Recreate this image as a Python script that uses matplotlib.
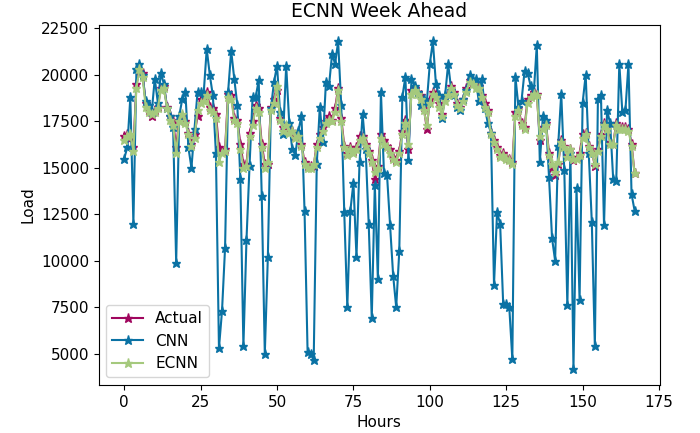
import matplotlib
matplotlib.use("Agg")
import matplotlib.pyplot as plt

hours = list(range(168))

actual = [
16700, 16800, 16600, 16100, 19500, 20200, 20100, 18500, 18100, 17800,
18100, 18300, 19300, 19400, 18300, 17800, 17500, 16100, 17600, 17800,
17500, 16900, 16300, 16800, 17800, 18700, 18800, 19100, 18300, 18200,
17900, 16100, 15900, 16000, 19000, 18900, 17700, 17600, 16300, 15200,
15200, 16900, 17500, 18400, 18200, 16300, 15200, 15200, 18300, 18700,
19200, 17700, 17200, 17200, 17100, 17000, 16700, 16900, 16300, 15300,
15100, 15100, 15100, 16300, 16800, 17200, 17500, 17800, 17600, 18200,
19300, 17700, 16200, 15800, 16100, 15900, 16100, 16700, 16700, 16300,
15900, 15400, 14400, 15100, 16800, 16500, 16200, 16000, 15600, 15400,
15900, 17000, 17600, 16000, 19200, 19300, 19100, 18900, 18300, 17100,
18700, 19100, 19000, 18500, 17900, 18800, 19000, 19400, 19100, 18500,
18300, 18700, 19300, 19700, 19600, 19500, 19400, 18900, 18500, 18100,
16900, 16500, 16100, 15700, 15800, 15600, 15500, 15300, 18000, 18200,
17400, 17200, 18700, 18900, 19100, 19000, 16500, 17200, 17400, 15800,
15000, 14600, 15200, 16500, 16200, 15700, 16000, 15400, 15600, 15800,
16800, 16900, 16200, 15900, 15100, 16000, 16800, 17400, 17200, 16400,
16300, 17400, 17200, 17200, 17200, 17100, 16300, 14700]

cnn = [
15500, 16100, 18800, 12000, 20300, 20600, 20000, 18600, 18400, 18000,
19800, 18500, 20100, 19500, 18200, 17800, 17200, 9900, 17800, 18700,
19100, 16100, 15000, 17100, 19100, 19100, 19000, 21400, 20000, 18900,
15800, 5300, 7300, 10700, 19100, 21300, 19800, 18400, 14400, 5400,
11100, 15100, 18800, 18800, 19700, 13500, 5000, 10200, 18200, 19600,
20500, 18000, 16800, 20500, 17400, 16000, 15700, 17000, 17800, 12700,
5100, 5000, 4650, 15200, 18300, 16400, 19600, 19400, 21100, 20600,
21800, 18400, 12600, 7500, 12700, 14200, 10200, 15300, 17900, 16000,
12000, 6900, 14100, 9000, 19100, 14700, 14600, 11900, 9200, 7500,
10500, 18800, 19900, 15400, 19800, 19400, 19100, 18400, 18700, 18500,
20600, 21800, 19500, 18900, 17700, 18900, 20600, 19200, 18900, 18300,
18100, 18700, 19200, 20000, 19700, 19800, 18600, 19800, 18200, 17400,
16900, 8700, 12600, 12000, 7700, 7700, 7500, 4700, 19900, 18300,
18600, 20200, 20100, 19400, 19000, 21600, 15300, 17800, 17600, 14500,
11200, 10000, 16200, 19000, 14900, 7600, 15800, 4200, 13900, 7900,
18500, 20000, 15800, 12100, 5400, 18700, 18900, 11900, 18100, 17400,
14400, 14300, 20600, 18000, 18100, 20600, 13600, 12700]

ecnn = [
16500, 16700, 16800, 15900, 19300, 20300, 19900, 18300, 18000, 17900,
18000, 18200, 19200, 19300, 18200, 17600, 17300, 15800, 17500, 17900,
17400, 16800, 16200, 16600, 18100, 18500, 18600, 18900, 18100, 18000,
17700, 15300, 15800, 15900, 18800, 18700, 17600, 17400, 16000, 15000,
15100, 16700, 17300, 18200, 18000, 16100, 15000, 15300, 18100, 18500,
19400, 17600, 17000, 17300, 16900, 17000, 16600, 16700, 16200, 15200,
15000, 15000, 15200, 16100, 16600, 17000, 17400, 17600, 17500, 18000,
19200, 17500, 16100, 15700, 16000, 15800, 16000, 16500, 16600, 16200,
15800, 15300, 14800, 15000, 16600, 16300, 16100, 15800, 15500, 15300,
15800, 16800, 17400, 16300, 19000, 19200, 19000, 18700, 18100, 17300,
18500, 19000, 18800, 18300, 17800, 18600, 18900, 19300, 19000, 18400,
18200, 18600, 19100, 19600, 19500, 19300, 19300, 18800, 18300, 18000,
16800, 16400, 16000, 15600, 15700, 15500, 15400, 15200, 17800, 18100,
17300, 17100, 18500, 18800, 19000, 18900, 16700, 17100, 17300, 15700,
15200, 14800, 15300, 16400, 16100, 15600, 16000, 15500, 15500, 15700,
16600, 16800, 16100, 15800, 15200, 15900, 16700, 17300, 17100, 16300,
16300, 17300, 17100, 17100, 17100, 17000, 16200, 14700]

fig = plt.figure(figsize=(7.0, 4.33), dpi=100)
ax = fig.add_axes([0.141, 0.111, 0.802, 0.831])

ax.plot(hours, actual, marker='*', color='#a0065e', lw=1.5, ms=6.5, label='Actual')
ax.plot(hours, cnn, marker='*', color='#0a72a4', lw=1.5, ms=6.5, label='CNN')
ax.plot(hours, ecnn, marker='*', color='#a5c97d', lw=1.5, ms=6.5, label='ECNN')

ax.set_title('ECNN Week Ahead', fontsize=13.5)
ax.set_xlabel('Hours', fontsize=11)
ax.set_ylabel('Load', fontsize=11)
ax.set_xticks([0, 25, 50, 75, 100, 125, 150, 175])
ax.set_yticks([5000, 7500, 10000, 12500, 15000, 17500, 20000, 22500])
ax.tick_params(labelsize=11)
ax.legend(loc='lower left', fontsize=11)

fig.savefig('out.png', dpi=100)
